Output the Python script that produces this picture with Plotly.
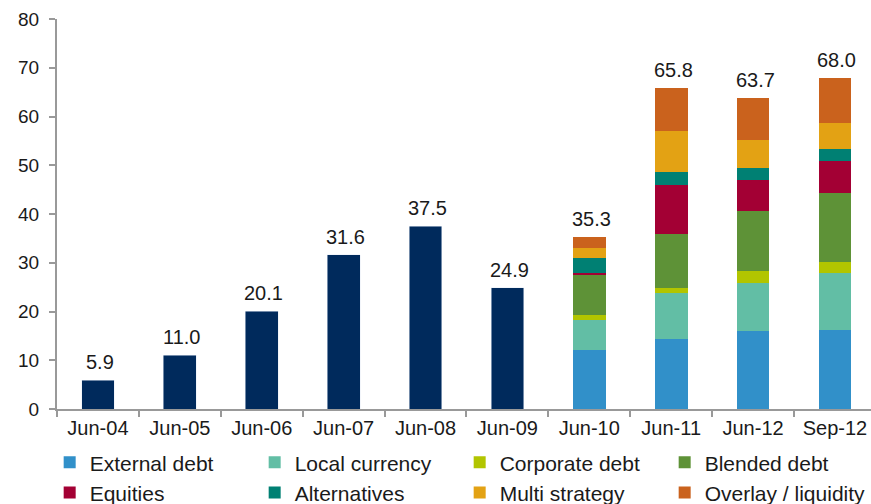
import plotly.graph_objects as go

# Periods on the x axis
periods = ["Jun-04", "Jun-05", "Jun-06", "Jun-07", "Jun-08", "Jun-09",
           "Jun-10", "Jun-11", "Jun-12", "Sep-12"]

# Totals only (no breakdown) for the early periods
early_periods = periods[:6]
early_totals = [5.9, 11.0, 20.1, 31.6, 37.5, 24.9]

# Breakdown by mandate type for the later periods
late_periods = periods[6:]
late_totals = [35.3, 65.8, 63.7, 68.0]
external_debt = [12.2, 14.3, 15.9, 16.3]
local_currency = [6.0, 9.4, 10.0, 11.5]
corporate_debt = [1.0, 1.2, 2.4, 2.3]
blended_debt = [8.3, 10.9, 12.4, 14.3]
equities = [0.3, 10.2, 6.3, 6.5]
alternatives = [3.2, 2.7, 2.5, 2.5]
multi_strategy = [2.1, 8.4, 5.7, 5.3]
overlay_liquidity = [2.2, 8.7, 8.5, 9.3]

series = [
    ("External debt", external_debt, "#3190C9"),
    ("Local currency", local_currency, "#62BEA5"),
    ("Corporate debt", corporate_debt, "#B2C500"),
    ("Blended debt", blended_debt, "#5E9237"),
    ("Equities", equities, "#A30034"),
    ("Alternatives", alternatives, "#008073"),
    ("Multi strategy", multi_strategy, "#E3A214"),
    ("Overlay / liquidity", overlay_liquidity, "#CA621D"),
]

FONT = "Liberation Sans, Arial, sans-serif"
TEXT = "#1a1a1a"
AXIS = "#999999"

fig = go.Figure()

fig.add_trace(go.Bar(
    x=early_periods, y=early_totals, marker_color="#002A5C",
    width=0.4, showlegend=False, hoverinfo="x+y",
))

for name, vals, color in series:
    fig.add_trace(go.Bar(
        x=late_periods, y=vals, name=name, marker_color=color,
        marker_line_width=0, width=0.4,
    ))

# Total value labels above each bar
for period, total in zip(periods, early_totals + late_totals):
    fig.add_annotation(
        x=period, y=total, text=f"{total:.1f}", showarrow=False,
        yanchor="bottom", yshift=5, xshift=2,
        font=dict(family=FONT, size=20, color=TEXT),
    )

fig.update_layout(
    width=871, height=504,
    barmode="stack",
    plot_bgcolor="white", paper_bgcolor="white",
    margin=dict(l=57, r=0, t=19, b=95, autoexpand=False),
    font=dict(family=FONT, size=19, color=TEXT),
    legend=dict(
        orientation="h", traceorder="normal",
        x=-0.009, xanchor="left", y=-0.085, yanchor="top",
        entrywidth=160, entrywidthmode="pixels",
        font=dict(family=FONT, size=21, color=TEXT),
        itemwidth=30, tracegroupgap=0,
        bgcolor="rgba(0,0,0,0)",
    ),
)

fig.update_xaxes(
    type="category", categoryorder="array", categoryarray=periods,
    range=[-0.5, 9.44],
    showline=True, linecolor=AXIS, linewidth=2,
    ticks="outside", tickson="boundaries", ticklen=6, tickcolor=AXIS,
    tickwidth=2, showgrid=False,
    tickfont=dict(family=FONT, size=20, color=TEXT),
)
fig.update_yaxes(
    range=[0, 80], dtick=10,
    showline=True, linecolor=AXIS, linewidth=2,
    ticks="outside", ticklen=6, tickcolor=AXIS, tickwidth=2,
    ticklabelstandoff=6,
    showgrid=False, zeroline=False,
    tickfont=dict(family=FONT, size=19, color=TEXT),
)

fig.write_html("out.html")
